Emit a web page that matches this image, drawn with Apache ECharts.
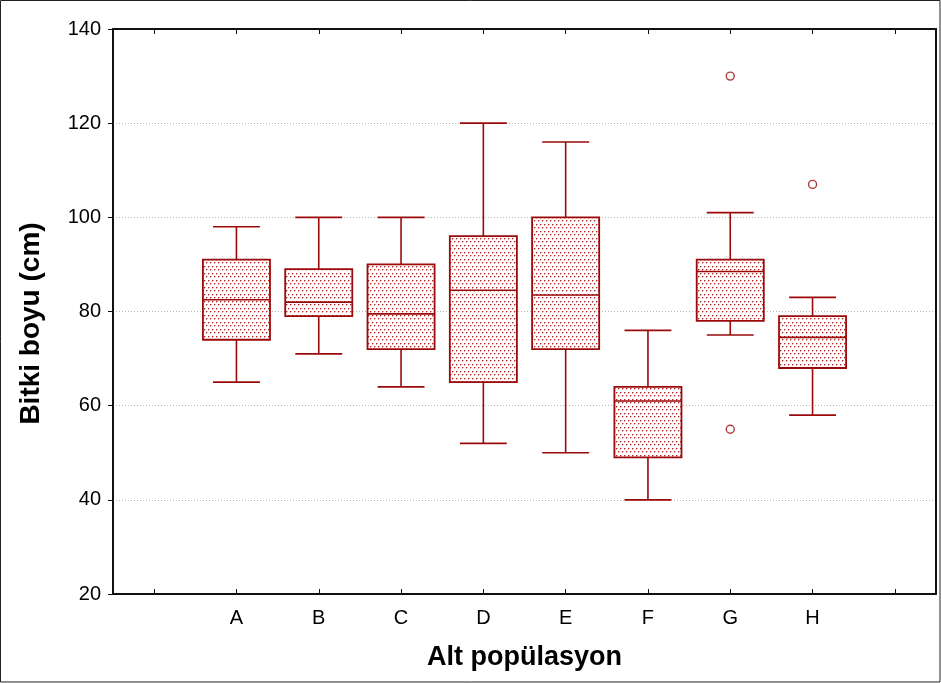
<!DOCTYPE html>
<html><head><meta charset="utf-8">
<script src="https://cdn.jsdelivr.net/npm/echarts@6/dist/echarts.min.js"></script>
<style>html,body{margin:0;padding:0;background:#fff}#c{width:941px;height:683px}</style>
</head><body><div id="c"></div>
<script>
// Data
const categories = ['', 'A', 'B', 'C', 'D', 'E', 'F', 'G', 'H', ''];
const groups = ['A', 'B', 'C', 'D', 'E', 'F', 'G', 'H'];
const whiskerMin = [65, 71, 64, 52, 50, 40, 75, 58];
const q1 =         [74, 79, 72, 65, 72, 49, 78, 68];
const median =     [82.5, 82, 79.5, 84.5, 83.5, 61, 88.5, 74.5];
const q3 =         [91, 89, 90, 96, 100, 64, 91, 79];
const whiskerMax = [98, 100, 100, 120, 116, 76, 101, 83];
const outlierGroup = ['G', 'G', 'H'];
const outlierValue = [130, 55, 107];
const yTicks = [20, 40, 60, 80, 100, 120, 140];

const RED = '#9a0a0a';
// dotted pattern
const pc = document.createElement('canvas');
pc.width = 4; pc.height = 7;
const px = pc.getContext('2d');
px.fillStyle = '#ffffff'; px.fillRect(0, 0, 4, 7);
function dot(x, y) {
  px.fillStyle = 'rgb(228,168,168)'; px.fillRect(x + 1, y, 1, 1); px.fillRect(x, y + 1, 1, 1);
  px.fillStyle = 'rgb(175,35,35)'; px.fillRect(x, y, 1, 1);
}
dot(0, 0);
dot(2, 3);

const boxData = groups.map((g, i) => [categories.indexOf(g), whiskerMin[i], q1[i], median[i], q3[i], whiskerMax[i]]);
const outData = outlierGroup.map((g, i) => [categories.indexOf(g), outlierValue[i]]);

const chart = echarts.init(document.getElementById('c'), null, {renderer: 'canvas'});
const axisFont = {fontFamily: 'Liberation Sans', fontSize: 20, color: '#000'};
chart.setOption({
  animation: false,
  graphic: [{type: 'rect', shape: {x: 0.5, y: 0.5, width: 939.5, height: 681.5}, style: {fill: 'none', stroke: '#222', lineWidth: 1}, silent: true, z: 100}],
  grid: {left: 113, top: 29, right: 5, bottom: 89, show: false},
  xAxis: [{
    type: 'category', data: categories, boundaryGap: true,
    axisLine: {show: true, lineStyle: {color: '#111', width: 2}},
    axisTick: {show: true, inside: true, alignWithLabel: true, interval: 0, length: 5, lineStyle: {color: '#111', width: 1}},
    axisLabel: Object.assign({interval: 0, margin: 14}, axisFont),
    splitLine: {show: false},
    name: 'Alt popülasyon', nameLocation: 'middle', nameGap: 50,
    nameTextStyle: {fontFamily: 'Liberation Sans', fontSize: 27, fontWeight: 'bold', color: '#000'}
  }, {
    type: 'category', data: categories, position: 'top', boundaryGap: true,
    axisLine: {show: true, lineStyle: {color: '#111', width: 2}},
    axisTick: {show: true, inside: true, alignWithLabel: true, interval: 0, length: 5, lineStyle: {color: '#111', width: 1}},
    axisLabel: {show: false}
  }],
  yAxis: [{
    type: 'value', min: 20, max: 140, interval: 20,
    axisLine: {show: true, lineStyle: {color: '#111', width: 2}},
    axisTick: {show: true, inside: false, length: 5, lineStyle: {color: '#111'}},
    axisLabel: Object.assign({margin: 12, formatter: v => yTicks.includes(v) ? String(v) : ''}, axisFont),
    splitLine: {show: true, lineStyle: {color: '#b8b8b8', type: [1, 2], width: 1}},
    name: 'Bitki boyu (cm)', nameLocation: 'middle', nameGap: 68,
    nameTextStyle: {fontFamily: 'Liberation Sans', fontSize: 28, fontWeight: 'bold', color: '#000', padding: [0, 24, 0, 0]}
  }, {
    type: 'value', min: 20, max: 140, interval: 20, position: 'right',
    axisLine: {show: true, lineStyle: {color: '#111', width: 2}},
    axisTick: {show: false}, axisLabel: {show: false}, splitLine: {show: false}
  }],
  series: [{
    type: 'custom',
    data: boxData,
    encode: {x: 0, y: [1, 2, 3, 4, 5]},
    renderItem: function (params, api) {
      const c = api.value(0);
      const w = api.size([1, 0])[0];
      const bw = w * 0.815, cw = w * 0.57;
      const pMin = api.coord([c, api.value(1)]);
      const pQ1 = api.coord([c, api.value(2)]);
      const pMed = api.coord([c, api.value(3)]);
      const pQ3 = api.coord([c, api.value(4)]);
      const pMax = api.coord([c, api.value(5)]);
      const x = pMin[0];
      const ls = {stroke: RED, lineWidth: 1.6, fill: null};
      return {type: 'group', children: [
        {type: 'line', shape: {x1: x, y1: pMax[1], x2: x, y2: pQ3[1]}, style: ls},
        {type: 'line', shape: {x1: x, y1: pQ1[1], x2: x, y2: pMin[1]}, style: ls},
        {type: 'line', shape: {x1: x - cw / 2, y1: pMax[1], x2: x + cw / 2, y2: pMax[1]}, style: ls},
        {type: 'line', shape: {x1: x - cw / 2, y1: pMin[1], x2: x + cw / 2, y2: pMin[1]}, style: ls},
        {type: 'rect', shape: {x: x - bw / 2, y: pQ3[1], width: bw, height: pQ1[1] - pQ3[1]},
          style: {fill: {image: pc, repeat: 'repeat'}, stroke: RED, lineWidth: 1.8}},
        {type: 'line', shape: {x1: x - bw / 2, y1: pMed[1], x2: x + bw / 2, y2: pMed[1]}, style: ls}
      ]};
    }
  }, {
    type: 'scatter', data: outData, symbol: 'circle', symbolSize: 8,
    itemStyle: {color: '#fff', borderColor: RED, borderWidth: 1.4}
  }]
});
</script></body></html>
